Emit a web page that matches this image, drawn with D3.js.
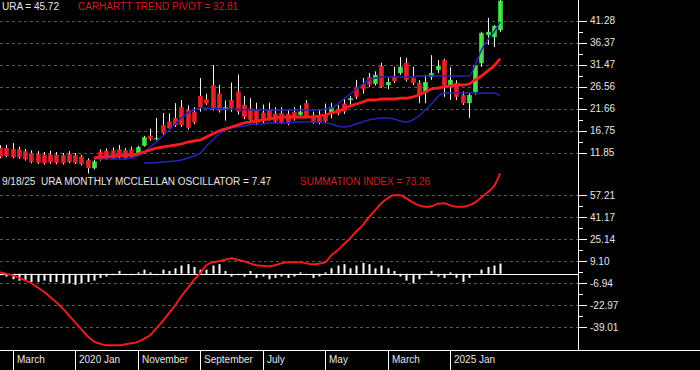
<!DOCTYPE html>
<html>
<head>
<meta charset="utf-8">
<script src="https://cdnjs.cloudflare.com/ajax/libs/d3/7.8.5/d3.min.js"></script>
<style>
  body { margin: 0; background: #000; }
  svg { display: block; font-family: Arial, "Liberation Sans", sans-serif; }
</style>
</head>
<body>
<svg id="chart" width="700" height="370"></svg>
<script>
// monthly URA candles, Jan 2019 .. Sep 2025
var firstMonth = new Date(Date.UTC(2019, 0, 1));

var opens = [12.9, 12.9, 12.7, 12.6, 12.2, 11.8, 11.6, 11.4, 11.5, 11.4,
  11.3, 11.6, 11.3, 11.0, 10.2, 8.4, 12.1, 12.3, 12.4, 12.6,
  12.4, 12.6, 11.8, 13.4, 15.6, 14.8, 18.0, 18.8, 19.6, 22.0,
  21.4, 21.0, 24.5, 23.8, 26.9, 25.0, 21.4, 23.6, 25.5, 22.5,
  21.7, 21.5, 20.8, 21.4, 20.6, 20.7, 20.5, 20.9, 20.3, 22.9,
  20.2, 20.2, 20.2, 20.5, 21.3, 22.8, 23.6, 26.5, 27.1, 28.7,
  27.2, 31.2, 26.9, 28.9, 29.6, 31.9, 28.5, 27.4, 25.2, 28.7,
  30.3, 32.5, 26.9, 27.4, 24.7, 22.9, 25.4, 31.8, 38.1, 37.6, 39.2];
var highs = [13.5, 13.6, 14.0, 13.2, 12.7, 12.4, 12.2, 12.0, 12.3, 12.0,
  11.8, 12.2, 11.8, 11.4, 10.6, 10.3, 12.6, 12.8, 13.0, 13.6,
  12.9, 13.2, 13.4, 15.6, 17.2, 19.6, 20.7, 20.6, 22.9, 23.6,
  22.4, 22.0, 28.5, 25.0, 31.4, 27.0, 23.5, 27.5, 29.3, 24.5,
  24.0, 23.0, 22.6, 23.0, 22.0, 22.0, 21.5, 22.0, 22.4, 23.6,
  21.0, 21.5, 22.8, 23.0, 22.5, 24.0, 24.5, 28.1, 28.5, 29.6,
  30.0, 31.9, 28.5, 31.0, 33.2, 33.0, 31.0, 28.0, 29.2, 33.6,
  32.5, 32.8, 30.9, 28.0, 25.5, 25.3, 31.6, 38.8, 41.9, 40.3, 46.0];
var lows = [10.6, 10.8, 10.6, 10.5, 10.1, 9.5, 9.3, 9.2, 9.4, 9.3,
  9.2, 9.5, 9.3, 9.0, 7.2, 8.1, 10.1, 10.3, 10.4, 10.6,
  10.4, 10.6, 11.6, 13.2, 14.5, 14.6, 15.8, 16.9, 17.6, 17.6,
  17.0, 18.2, 21.0, 22.5, 21.3, 20.8, 19.0, 21.0, 20.3, 19.3,
  18.8, 18.0, 18.5, 19.0, 18.4, 18.2, 18.0, 19.0, 20.0, 19.5,
  18.3, 18.2, 18.6, 19.5, 20.2, 20.5, 22.5, 23.8, 25.0, 26.5,
  26.8, 26.3, 26.0, 27.4, 29.2, 27.7, 26.9, 22.9, 22.9, 28.1,
  29.6, 24.3, 23.6, 23.6, 22.5, 19.6, 24.8, 31.0, 35.9, 35.4, 38.8];
var closes = [10.9, 11.1, 10.9, 10.8, 10.4, 9.8, 9.6, 9.5, 9.7, 9.6,
  9.5, 9.8, 9.6, 9.3, 8.4, 9.9, 10.4, 10.6, 10.7, 10.9,
  10.7, 10.9, 13.1, 15.3, 14.8, 15.1, 16.2, 17.3, 18.0, 18.0,
  17.4, 18.6, 22.0, 22.8, 21.8, 21.2, 22.0, 21.8, 21.0, 19.8,
  19.2, 18.5, 19.0, 19.4, 18.8, 18.5, 18.4, 19.3, 21.0, 19.9,
  18.6, 18.5, 18.9, 22.0, 20.6, 21.0, 24.0, 24.3, 26.0, 27.0,
  29.2, 26.5, 27.6, 27.8, 31.0, 28.1, 27.4, 24.7, 27.6, 29.6,
  31.2, 26.9, 28.1, 24.3, 22.9, 24.7, 31.4, 38.5, 38.8, 40.1, 45.72];

var N = null;
var trendPivot = [N, N, N, N, N, N, N, N, N, N, N, N, N, N, N,
  10.66, 10.89, 10.89, 11.11, 11.11, 11.33, 11.33, 11.56, 12.00, 12.45,
  12.89, 13.12, 13.34, 13.56, 13.79, 14.23, 14.46, 14.68, 15.35, 16.02,
  16.69, 17.13, 17.58, 18.03, 18.47, 18.69, 18.92, 19.14, 19.36, 19.59,
  19.81, 19.81, 19.81, 19.81, 19.81, 19.81, 20.03, 20.25, 20.70, 21.14,
  21.59, 22.26, 22.71, 23.15, 23.60, 23.60, 23.82, 23.82, 23.82, 24.04,
  24.04, 24.27, 24.71, 25.38, 26.05, 26.27, 26.50, 26.72, 26.94, 26.94,
  27.17, 28.06, 28.95, 30.06, 31.18, 32.81];
var upperBlue = [N, N, N, N, N, N, N, N, N, N, N, N, N, N, N,
  10.44, 10.44, 10.44, 10.44, 10.44, 10.44, 10.66, 11.11, 12.00, 13.12,
  14.23, 15.57, 16.91, 18.25, 19.59, 20.70, 21.37, 21.81, 21.81, 21.70,
  21.65, 21.60, 21.55, 21.50, 21.45, 21.40, 21.37, 21.37, 21.37, 21.37,
  21.37, 21.37, 21.37, 21.37, 21.37, 21.37, 21.37, 21.59, 21.81, 22.71,
  23.82, 24.93, 26.05, 27.17, 28.06, 28.50, 28.73, 28.73, 28.73, 28.73,
  28.73, 28.73, 28.95, 28.95, 28.95, 28.95, 28.95, 28.95, 28.95, 28.95,
  28.95, 31.40, 34.75, 37.00, 38.80, 41.00];
var lowerBlue = [N, N, N, N, N, N, N, N, N, N, N, N, N, N, N, N, N, N, N, N, N, N, N,
  9.55, 9.55, 9.66, 9.77, 9.90, 10.00, 10.22, 10.66, 11.11, 11.78,
  13.34, 14.68, 16.00, 16.91, 17.36, 17.58, 17.80, 18.03, 18.25, 18.25,
  18.47, 18.47, 18.47, 18.47, 18.69, 18.69, 18.69, 18.69, 18.69, 18.47,
  18.25, 17.80, 17.58, 17.80, 18.25, 18.69, 19.14, 19.36, 19.59, 19.59,
  19.36, 18.92, 18.69, 19.14, 20.03, 21.37, 22.71, 24.27, 25.16, 25.16,
  25.16, 25.16, 25.16, 25.16, 25.16, 25.16, 25.16, 24.49];

var oscillator = [-1, -2, -4, -5, -5, -6, -6, -5, -6, -6,
  -7, -7, -8, -7, -6, -5, -3, -2, -1, 2,
  -1, -1, 1, 3, 1, -1, 3, 2, 4, 6,
  7, 5, 3, 3, 6, 7, 2, -2, -1, -2,
  2, -3, -2, -4, -3, -2, -3, -2, 1, -1,
  -3, -2, 1, 4, 6, 7, 4, 6, 8, 7,
  4, 6, 4, 2, -2, -5, -7, -4, -1, 2,
  -2, -3, 1, -3, -6, -3, -1, 3, 5, 6, 7.47];
var summation = [1.1, -0.2, -1.1, -3.0, -4.8, -6.9, -9.9, -13.1, -17.0, -20.8,
  -25.2, -30.3, -35.4, -40.5, -45.6, -49.2, -51.0, -52.1, -52.1, -52.1,
  -51.4, -50.7, -49.6, -47.4, -44.8, -39.7, -34.6, -28.8, -23.0, -16.4,
  -10.6, -4.7, 0.4, 6.2, 8.4, 9.1, 10.2, 11.3, 10.2, 9.1,
  7.6, 6.2, 5.8, 5.5, 6.2, 7.6, 8.4, 8.4, 8.4, 7.6,
  6.9, 7.3, 8.4, 13.5, 17.1, 21.5, 25.9, 31.0, 35.3, 41.2,
  46.3, 51.4, 55.0, 57.2, 57.2, 55.0, 52.1, 49.9, 48.8, 49.2,
  51.0, 51.4, 49.9, 48.8, 48.8, 49.9, 52.1, 55.7, 59.4, 63.8, 73.26];

var priceTicks = [11.85, 16.75, 21.66, 26.56, 31.47, 36.37, 41.28];
var oscTicks = [-39.01, -22.97, -6.94, 9.10, 25.14, 41.17, 57.21];
var monthTickDates = ["2019-03", "2020-01", "2020-11", "2021-09", "2022-07", "2023-05", "2024-03", "2025-01"];
var monthTickLabels = ["March", "2020 Jan", "November", "September", "July", "May", "March", "2025 Jan"];

var priceTitle = "URA = 45.72";
var pivotTitle = "CARHARTT TREND PIVOT = 32.81";
var oscTitle = "9/18/25  URA MONTHLY MCCLELLAN OSCILLATOR = 7.47";
var sumTitle = "SUMMATION INDEX = 73.26";

var svg = d3.select("#chart");
var plotRight = 578;

var months = d3.utcMonth.range(firstMonth, d3.utcMonth.offset(firstMonth, closes.length));
function monthIndex(str) {
  var p = str.split("-");
  return (+p[0] - 2019) * 12 + (+p[1] - 1);
}

var x = d3.scaleLinear().domain([0, months.length - 1]).range([0.2, 500.2]);
var yPrice = d3.scaleLinear().domain([11.85, 41.28]).range([152.7, 20.7]);
var yOsc = d3.scaleLinear().domain([-39.01, 57.21]).range([327.3, 195.3]);

svg.append("rect").attr("width", 700).attr("height", 370).attr("fill", "#000");

var defs = svg.append("defs");
function bodyGradient(id, edge, mid) {
  var g = defs.append("linearGradient").attr("id", id)
    .attr("x1", "0%").attr("x2", "100%").attr("y1", "0%").attr("y2", "0%");
  g.append("stop").attr("offset", "0%").attr("stop-color", edge);
  g.append("stop").attr("offset", "40%").attr("stop-color", mid);
  g.append("stop").attr("offset", "100%").attr("stop-color", edge);
}
bodyGradient("redBody", "#b4141c", "#f02a2e");
bodyGradient("greenBody", "#24b424", "#5cf05c");

// grid lines + right axis for a panel
function drawPanelAxis(scale, ticks) {
  var g = svg.append("g");
  g.selectAll("line.grid").data(ticks).enter().append("line")
    .attr("class", "grid")
    .attr("x1", 0).attr("x2", plotRight)
    .attr("y1", function(d) { return Math.round(scale(d)) + 0.5; })
    .attr("y2", function(d) { return Math.round(scale(d)) + 0.5; })
    .attr("stroke", "#5a5a5a")
    .attr("stroke-dasharray", "3,3");

  var minors = d3.pairs(ticks).map(function(p) { return (p[0] + p[1]) / 2; });
  g.selectAll("line.minor").data(minors).enter().append("line")
    .attr("x1", plotRight).attr("x2", plotRight + 5)
    .attr("y1", function(d) { return Math.round(scale(d)) + 0.5; })
    .attr("y2", function(d) { return Math.round(scale(d)) + 0.5; })
    .attr("stroke", "#fff");

  g.selectAll("line.major").data(ticks).enter().append("line")
    .attr("x1", plotRight).attr("x2", plotRight + 9)
    .attr("y1", function(d) { return Math.round(scale(d)) + 0.5; })
    .attr("y2", function(d) { return Math.round(scale(d)) + 0.5; })
    .attr("stroke", "#fff");

  g.selectAll("text").data(ticks).enter().append("text")
    .attr("x", 590)
    .attr("y", function(d) { return scale(d); })
    .attr("dy", "0.35em")
    .attr("fill", "#e6e6e6")
    .attr("font-size", "10px")
    .text(function(d) { return d.toFixed(2); });
}

drawPanelAxis(yPrice, priceTicks);
drawPanelAxis(yOsc, oscTicks);

// candles
var candles = months.map(function(m, i) {
  return { i: i, o: opens[i], h: highs[i], l: lows[i], c: closes[i] };
});

var cg = svg.append("g");
cg.selectAll("line.wick").data(candles).enter().append("line")
  .attr("x1", function(d) { return Math.round(x(d.i)) + 0.5; })
  .attr("x2", function(d) { return Math.round(x(d.i)) + 0.5; })
  .attr("y1", function(d) { return yPrice(d.h); })
  .attr("y2", function(d) { return yPrice(d.l); })
  .attr("stroke", "#f0f0f0")
  .attr("stroke-width", 1);

cg.selectAll("rect.body").data(candles).enter().append("rect")
  .attr("x", function(d) { return Math.round(x(d.i)) - 2; })
  .attr("width", 5)
  .attr("y", function(d) { return yPrice(Math.max(d.o, d.c)); })
  .attr("height", function(d) { return Math.max(1, Math.abs(yPrice(d.o) - yPrice(d.c))); })
  .attr("fill", function(d) { return d.c >= d.o ? "url(#greenBody)" : "url(#redBody)"; });

// overlay lines on the price panel
function drawLine(values, scale, color, width) {
  var line = d3.line()
    .defined(function(d) { return d != null; })
    .x(function(d, i) { return x(i); })
    .y(function(d) { return scale(d); })
    .curve(d3.curveMonotoneX);
  svg.append("path")
    .datum(values)
    .attr("d", line)
    .attr("fill", "none")
    .attr("stroke", color)
    .attr("stroke-width", width)
    .attr("stroke-linejoin", "round");
}

drawLine(lowerBlue, yPrice, "#2424b8", 1.5);
drawLine(upperBlue, yPrice, "#2424b8", 1.5);
drawLine(trendPivot, yPrice, "#ff1c1c", 2.8);

// oscillator panel
var zeroY = Math.round(yOsc(0)) + 0.5;
svg.append("g").selectAll("rect").data(oscillator).enter().append("rect")
  .attr("x", function(d, i) { return Math.round(x(i)) - 0.5; })
  .attr("width", 2)
  .attr("y", function(d) { return Math.min(yOsc(d), yOsc(0)); })
  .attr("height", function(d) { return Math.abs(yOsc(d) - yOsc(0)); })
  .attr("fill", "#fff");

svg.append("line")
  .attr("x1", 0).attr("x2", plotRight)
  .attr("y1", zeroY).attr("y2", zeroY)
  .attr("stroke", "#fff");

drawLine(summation, yOsc, "#ee1c1c", 2);

// frame: right axis line + bottom date strip
svg.append("line")
  .attr("x1", plotRight + 0.5).attr("x2", plotRight + 0.5)
  .attr("y1", 0).attr("y2", 350)
  .attr("stroke", "#fff");
svg.append("line")
  .attr("x1", 0).attr("x2", 700)
  .attr("y1", 350.5).attr("y2", 350.5)
  .attr("stroke", "#fff");

var xt = svg.append("g");
var tickIdx = monthTickDates.map(monthIndex);
xt.selectAll("line").data(tickIdx).enter().append("line")
  .attr("x1", function(d) { return Math.round(x(d)) + 0.5; })
  .attr("x2", function(d) { return Math.round(x(d)) + 0.5; })
  .attr("y1", 350).attr("y2", 370)
  .attr("stroke", "#fff");
xt.selectAll("text").data(tickIdx).enter().append("text")
  .attr("x", function(d) { return Math.round(x(d)) + 4; })
  .attr("y", 362.5)
  .attr("fill", "#e6e6e6")
  .attr("font-size", "10px")
  .text(function(d, i) { return monthTickLabels[i]; });

// titles
svg.append("text").attr("x", 2).attr("y", 9.5).attr("fill", "#e6e6e6")
  .attr("font-size", "10px").text(priceTitle);
svg.append("text").attr("x", 78).attr("y", 9.5).attr("fill", "#d41e1e")
  .attr("font-size", "10px").text(pivotTitle);
svg.append("text").attr("x", 2).attr("y", 185).attr("fill", "#e6e6e6")
  .attr("font-size", "10px").attr("xml:space", "preserve").text(oscTitle);
svg.append("text").attr("x", 300).attr("y", 185).attr("fill", "#d41e1e")
  .attr("font-size", "10px").text(sumTitle);
</script>
</body>
</html>
